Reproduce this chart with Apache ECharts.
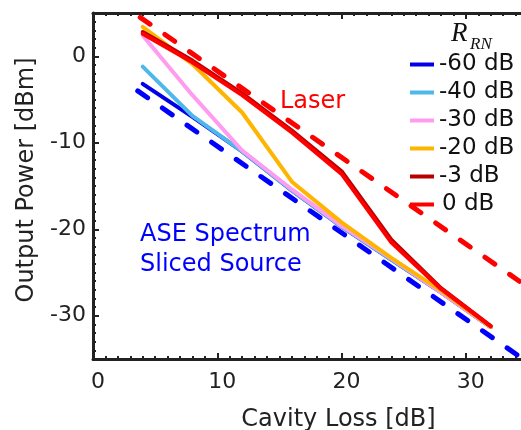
<!DOCTYPE html>
<html>
<head>
<meta charset="utf-8">
<script src="https://cdn.jsdelivr.net/npm/echarts@6/dist/echarts.min.js"></script>
<style>
  html, body { margin: 0; padding: 0; background: #fff; overflow: hidden; }
  #chart { width: 521px; height: 430px; }
</style>
</head>
<body>
<div id="chart"></div>
<script>
// Cavity loss (dB) at which every R_RN curve is sampled
const cavityLoss = [4, 8, 12, 16, 20, 24, 28, 32];

// Output power (dBm) for each relative reflection level
const rrnNames = ['-60 dB', '-40 dB', '-30 dB', '-20 dB', '-3 dB', '0 dB'];
const powerM60 = [-3.2, -7.0, -11.0, -15.5, -19.7, -23.5, -27.3, -31.3];
const powerM40 = [-1.2, -6.9, -11.0, -15.5, -19.7, -23.5, -27.3, -31.3];
const powerM30 = [2.4, -4.5, -10.9, -15.4, -19.6, -23.4, -27.3, -31.3];
const powerM20 = [3.4, -0.9, -6.5, -14.5, -19.2, -23.3, -27.1, -31.3];
const powerM3 = [2.8, -0.5, -4.3, -8.6, -13.3, -21.2, -26.8, -31.2];
const power0 = [2.6, -0.7, -4.5, -8.8, -13.6, -21.5, -26.9, -31.2];

// Reference limits: pure laser and ASE spectrum-sliced source
const laserLoss = [3.8, 35];
const laserPower = [4.5, -26.7];
const aseLoss = [3.6, 35];
const asePower = [-4.0, -35.4];

// Axis ticks
const xTicks = [0, 10, 20, 30];
const yTicks = [-30, -20, -10, 0];

const FONT = 'DejaVu Sans';
const AXIS_COLOR = '#222';

const pairs = (xs, ys) => xs.map((x, i) => [x, ys[i]]);

function solid(name, ys, color) {
  return {
    name, type: 'line', data: pairs(cavityLoss, ys),
    symbol: 'none', smooth: false,
    itemStyle: { color },
    lineStyle: { color, width: 4, cap: 'round', join: 'round' },
    xAxisIndex: 0, yAxisIndex: 0
  };
}
function dashed(name, xs, ys, color) {
  return {
    name, type: 'line', data: pairs(xs, ys),
    symbol: 'none',
    itemStyle: { color },
    lineStyle: { color, width: 5, type: [12, 18], cap: 'round' },
    xAxisIndex: 0, yAxisIndex: 0
  };
}

function majorAxis(pos, ticks, min, max, withLabel, extra) {
  return Object.assign({
    type: 'value', position: pos, min, max,
    axisLine: { show: true, onZero: false, lineStyle: { color: AXIS_COLOR, width: 3 } },
    axisTick: { show: true, inside: true, length: 6, customValues: ticks,
                lineStyle: { color: AXIS_COLOR, width: 2 } },
    axisLabel: { show: withLabel, customValues: ticks, fontFamily: FONT, fontSize: 22, color: '#222' },
    splitLine: { show: false }
  }, extra || {});
}
function minorAxis(pos, min, max) {
  return {
    type: 'value', position: pos, min, max, interval: 1,
    axisLine: { show: false, onZero: false },
    axisTick: { show: true, inside: true, length: 3, lineStyle: { color: AXIS_COLOR, width: 2 } },
    axisLabel: { show: false },
    splitLine: { show: false }
  };
}

const chart = echarts.init(document.getElementById('chart'));
chart.setOption({
  animation: false,
  backgroundColor: '#fff',
  grid: { left: 93, top: 13, right: -7, bottom: 71, outerBoundsMode: 'none' },
  xAxis: [
    majorAxis('bottom', xTicks, 0, 35, true, {
      name: 'Cavity Loss [dB]', nameLocation: 'middle', nameGap: 49,
      nameTextStyle: { fontFamily: FONT, fontSize: 24, color: '#222', padding: [0, 0, 0, 56] },
      axisLabel: { show: true, customValues: xTicks, fontFamily: FONT, fontSize: 22, color: '#222',
                   margin: 12, padding: [0, 0, 0, 10] }
    }),
    minorAxis('bottom', 0, 35),
    majorAxis('top', xTicks, 0, 35, false),
    minorAxis('top', 0, 35)
  ],
  yAxis: [
    majorAxis('left', yTicks, -35, 5, true, {
      name: 'Output Power [dBm]', nameLocation: 'middle', nameGap: 50,
      nameTextStyle: { fontFamily: FONT, fontSize: 24, color: '#222', padding: [0, 0, 0, 12] },
      axisLabel: { show: true, customValues: yTicks, fontFamily: FONT, fontSize: 22, color: '#222', margin: 7 }
    }),
    minorAxis('left', -35, 5)
  ],
  legend: {
    data: rrnNames,
    orient: 'vertical', left: 405, top: 48,
    icon: 'rect', itemWidth: 24, itemHeight: 4, itemGap: 5,
    selectedMode: false,
    itemStyle: { borderWidth: 0 },
    lineStyle: { type: 'solid' },
    formatter: n => (n.charAt(0) === '-' ? n : '{pad|}' + n),
    textStyle: { fontFamily: FONT, fontSize: 23, color: '#111', lineHeight: 20,
                 rich: { pad: { width: 3 } } }
  },
  graphic: [
    { type: 'text', left: 451, top: 20, z: 10,
      style: { text: 'R', font: 'italic 27px "Liberation Serif"', fill: '#111' } },
    { type: 'text', left: 470, top: 36, z: 10,
      style: { text: 'RN', font: 'italic 17px "Liberation Serif"', fill: '#111' } },
    { type: 'text', left: 280, top: 90, z: 10,
      style: { text: 'Laser', font: '24px "DejaVu Sans"', fill: '#ff0000' } },
    { type: 'text', left: 140, top: 220, z: 10,
      style: { text: 'ASE Spectrum\nSliced Source', font: '24px "DejaVu Sans"', fill: '#0000ff',
               align: 'center', lineHeight: 30 } }
  ],
  series: [
    solid(rrnNames[0], powerM60, '#0000e6'),
    solid(rrnNames[1], powerM40, '#4fb8ea'),
    solid(rrnNames[2], powerM30, '#ff9cf0'),
    solid(rrnNames[3], powerM20, '#ffb400'),
    solid(rrnNames[4], powerM3, '#b80000'),
    solid(rrnNames[5], power0, '#ff0000'),
    dashed('Laser', laserLoss, laserPower, '#ff0000'),
    dashed('ASE Spectrum Sliced Source', aseLoss, asePower, '#0000ff')
  ]
});
</script>
</body>
</html>
